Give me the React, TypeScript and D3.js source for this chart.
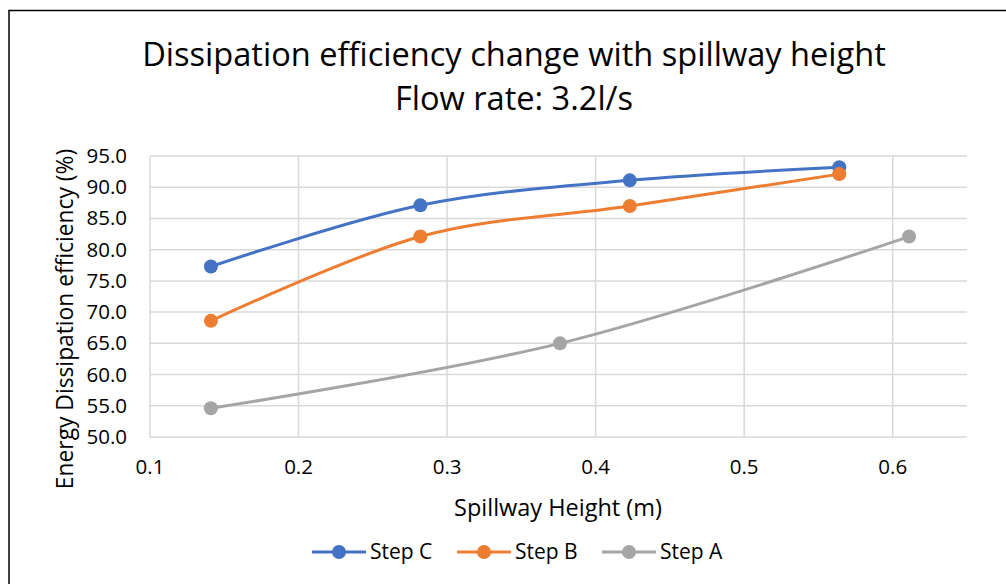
import * as d3 from 'd3'
import React from 'react'

const stepCx = [0.141, 0.282, 0.423, 0.564]
const stepCy = [77.3, 87.1, 91.1, 93.2]
const stepBx = [0.141, 0.282, 0.423, 0.564]
const stepBy = [68.6, 82.1, 87.0, 92.1]
const stepAx = [0.141, 0.376, 0.611]
const stepAy = [54.6, 65.0, 82.1]
const xTicks = [0.1, 0.2, 0.3, 0.4, 0.5, 0.6]
const yTicks = [50, 55, 60, 65, 70, 75, 80, 85, 90, 95]

const series = [
  { name: 'Step C', xs: stepCx, ys: stepCy, color: '#4472C4' },
  { name: 'Step B', xs: stepBx, ys: stepBy, color: '#ED7D31' },
  { name: 'Step A', xs: stepAx, ys: stepAy, color: '#A5A5A5' },
]

const W = 1006
const H = 584
const font = '"Open Sans", Lato, sans-serif'

export default function App() {
  const left = 150
  const right = 967
  const top = 156
  const bottom = 437

  const x = d3.scaleLinear().domain([0.1, 0.65]).range([left, right])
  const y = d3.scaleLinear().domain([50, 95]).range([bottom, top])

  // Excel style smoothed line
  const line = d3
    .line<[number, number]>()
    .x((d) => x(d[0]))
    .y((d) => y(d[1]))
    .curve(d3.curveCardinal.tension(0))

  const legendX = [312, 457, 602]

  return (
    <svg
      width={W}
      height={H}
      style={{ position: 'absolute', left: 0, top: 0, background: '#fff' }}
      fontFamily={font}
    >
      <rect x={9} y={10.5} width={1100} height={700} fill="#fff" stroke="#000" strokeWidth={1.5} />

      <text x={514} y={66} textAnchor="middle" fontSize={32.6} fill="#000">
        Dissipation efficiency change with spillway height
      </text>
      <text x={514} y={110} textAnchor="middle" fontSize={32.6} fill="#000">
        Flow rate: 3.2l/s
      </text>

      {/* gridlines */}
      {yTicks.map((t) => (
        <line key={'gy' + t} x1={left} x2={right} y1={y(t)} y2={y(t)} stroke="#D9D9D9" strokeWidth={1.5} />
      ))}
      {xTicks.map((t) => (
        <line key={'gx' + t} x1={x(t)} x2={x(t)} y1={top} y2={bottom} stroke="#D9D9D9" strokeWidth={1.5} />
      ))}

      {/* tick labels */}
      {yTicks.map((t) => (
        <text key={'ty' + t} x={left - 23} y={y(t) + 7} textAnchor="end" fontSize={20.5} fill="#000">
          {t.toFixed(1)}
        </text>
      ))}
      {xTicks.map((t) => (
        <text key={'tx' + t} x={x(t)} y={474} textAnchor="middle" fontSize={20.5} fill="#000">
          {t.toFixed(1)}
        </text>
      ))}

      <text x={558} y={516} textAnchor="middle" fontSize={23.5} fill="#000">
        Spillway Height (m)
      </text>
      <text
        transform="translate(73, 319) rotate(-90)"
        textAnchor="middle"
        fontSize={22.8}
        fill="#000"
      >
        Energy Dissipation efficiency (%)
      </text>

      {/* series */}
      {series.map((s) => {
        const pts = s.xs.map((v, i) => [v, s.ys[i]] as [number, number])
        return (
          <g key={s.name}>
            <path d={line(pts) || ''} fill="none" stroke={s.color} strokeWidth={3} />
            {pts.map((p, i) => (
              <circle key={i} cx={x(p[0])} cy={y(p[1])} r={7} fill={s.color} />
            ))}
          </g>
        )
      })}

      {/* legend */}
      {series.map((s, i) => (
        <g key={'lg' + s.name} transform={`translate(${legendX[i]}, 552)`}>
          <line x1={0} x2={54} y1={0} y2={0} stroke={s.color} strokeWidth={3} />
          <circle cx={27} cy={0} r={7} fill={s.color} />
          <text x={58} y={7} fontSize={21} fill="#000">
            {s.name}
          </text>
        </g>
      ))}
    </svg>
  )
}
